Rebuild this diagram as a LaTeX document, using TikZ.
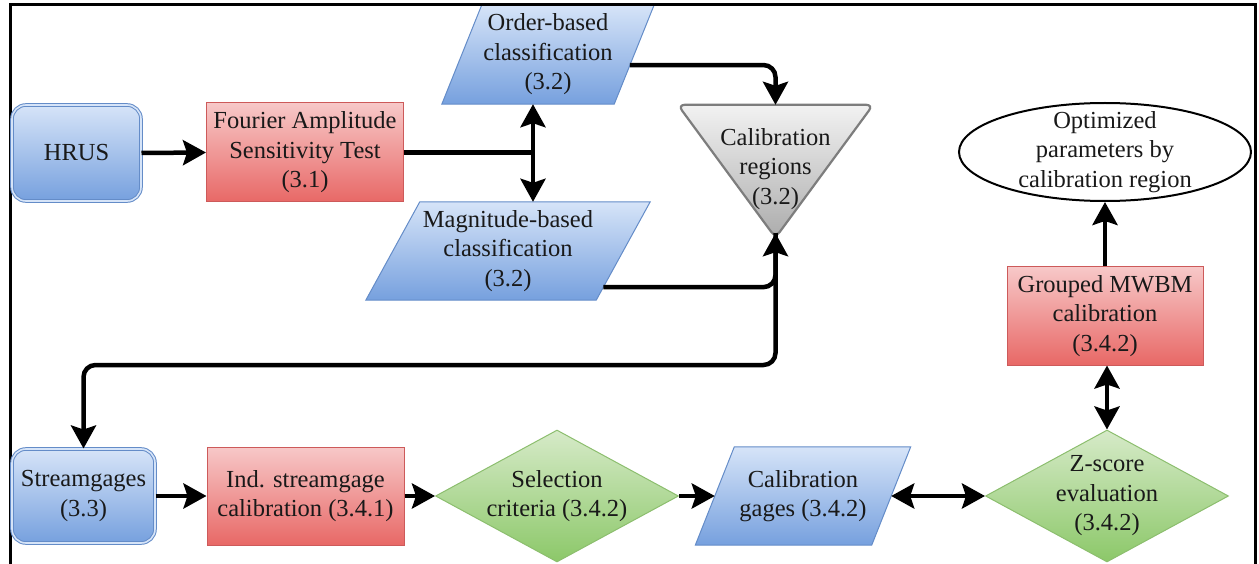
\documentclass[tikz,border=0pt]{standalone}
\usepackage{fontspec}
\setmainfont{Liberation Serif}
\newfontfamily\tnrfont{Liberation Serif}
\usetikzlibrary{arrows.meta,shapes.geometric,calc}
\definecolor{bluetop}{RGB}{214,228,248}
\definecolor{bluebot}{RGB}{118,160,222}
\definecolor{blueline}{RGB}{100,140,200}
\definecolor{redtop}{RGB}{247,200,200}
\definecolor{redbot}{RGB}{232,104,102}
\definecolor{redline}{RGB}{205,90,90}
\definecolor{greentop}{RGB}{214,234,200}
\definecolor{greenbot}{RGB}{140,200,105}
\definecolor{greenline}{RGB}{140,190,110}
\definecolor{graytop}{RGB}{242,242,242}
\definecolor{graybot}{RGB}{172,172,172}
\definecolor{grayline}{RGB}{125,125,125}
\definecolor{ink}{RGB}{25,25,25}
\pgfdeclarelayer{shp}
\pgfsetlayers{shp,main}
\tikzset{
  txt/.style={font=\tnrfont\fontsize{24.5}{29.5}\selectfont, text=ink, align=center},
  bluebox/.style={txt, rectangle, rounded corners=14pt, draw=blueline, line width=1pt,
    double=bluetop, double distance=1.6pt, top color=bluetop, bottom color=bluebot, inner sep=0pt},
  redbox/.style={txt, rectangle, draw=redline, line width=1pt, top color=redtop,
    bottom color=redbot, inner sep=0pt},
  dia/.style={diamond, draw=greenline, line width=1pt, top color=greentop,
    bottom color=greenbot, inner sep=0pt, minimum width=243pt, minimum height=132pt},
  body/.style={txt, rectangle, inner sep=0pt},
  parafill/.style={draw=blueline, line width=1pt, top color=bluetop, bottom color=bluebot},
  conn/.style={line width=4.5pt, draw=black},
}
\newcommand\drawpara[2]{%
  \begin{pgfonlayer}{shp}
  \draw[parafill] ([xshift=#2]#1.north west) -- ([xshift=#2]#1.north east)
    -- ([xshift=-#2]#1.south east) -- ([xshift=-#2]#1.south west) -- cycle;
  \end{pgfonlayer}}
\begin{document}
\begin{tikzpicture}[x=1pt,y=-1pt,>={Stealth[length=23pt,width=25pt,inset=4pt]}]
\useasboundingbox (0,0) rectangle (1259,564);
\draw[line width=3pt] (10,600) -- (10,5) -- (1255,5) -- (1255,600);

% nodes
\node[bluebox, minimum width=129pt, minimum height=96pt] (hrus) at (76.5,153) {HRUS};
\node[redbox, minimum width=197pt, minimum height=99pt] (fast) at (305,152.5)
  {Fourier Amplitude\\Sensitivity Test\\(3.1)};
\node[body, minimum width=172pt, minimum height=99pt] (ob) at (548,54.5)
  {Order-based\\classification\\(3.2)};
\drawpara{ob}{20pt}
\node[body, minimum width=230pt, minimum height=98pt] (mag) at (508,251)
  {Magnitude-based\\classification\\(3.2)};
\drawpara{mag}{27pt}
\node[body, minimum width=195pt, minimum height=128pt] (tri) at (775.5,169)
  {Calibration\\regions\\(3.2)};
\begin{pgfonlayer}{shp}
\draw[draw=grayline, line width=2.2pt, top color=graytop, bottom color=graybot,
  rounded corners=7pt] (tri.north west) -- (tri.north east) -- ([yshift=-4.5pt]tri.south) -- cycle;
\end{pgfonlayer}
\node[ellipse, draw=black, line width=2pt, fill=white, minimum width=292pt,
  minimum height=98pt, inner sep=0pt,
  label={[txt]center:{Optimized\\parameters by\\calibration region}}] (opt) at (1105,152) {};
\node[redbox, minimum width=196pt, minimum height=98pt] (mwbm) at (1105,316)
  {Grouped MWBM\\calibration\\(3.4.2)};
\node[bluebox, minimum width=143pt, minimum height=94pt] (sg) at (83.5,496)
  {Streamgages\\(3.3)};
\node[redbox, minimum width=197pt, minimum height=98pt] (ind) at (305.5,496)
  {Ind. streamgage\\calibration (3.4.1)};
\node[dia, label={[txt]center:{Selection\\criteria (3.4.2)}}] (sel) at (557,496) {};
\node[body, minimum width=176pt, minimum height=98pt] (cg) at (803,496)
  {Calibration\\gages (3.4.2)};
\drawpara{cg}{19.5pt}
\node[dia, label={[txt]center:{Z-score\\evaluation\\(3.4.2)}}] (z) at (1107,496) {};

% connectors
\coordinate (ob-o) at ($([xshift=20pt]ob.north east)!0.606!([xshift=-20pt]ob.south east)$);
\coordinate (mag-o) at ($([xshift=27pt]mag.north east)!0.867!([xshift=-27pt]mag.south east)$);
\coordinate (j1) at (533,152.5);
\coordinate (bend) at (0,365);

\draw[conn,->] (hrus.east) -- (fast.west);
\draw[conn] (fast.east) -- (j1);
\draw[conn,<->] (ob.south -| j1) -- (mag.north -| j1);
\draw[conn,->,rounded corners=12pt] (ob-o) -| (tri.north);
\draw[conn,->,rounded corners=12pt] (mag-o) -| (tri.south);
\draw[conn,->,rounded corners=12pt] (tri.south) |- (bend -| sg.north) -- (sg.north);
\draw[conn,->] (sg.east) -- (ind.west);
\draw[conn,->] (ind.east) -- (sel.west);
\draw[conn,->] (sel.east) -- (cg.west);
\draw[conn,<->] (cg.east) -- (z.west);
\draw[conn,<->] (z.north) -- (mwbm.south -| z.north);
\draw[conn,->] (mwbm.north) -- (opt.south -| mwbm.north);
\end{tikzpicture}
\end{document}
